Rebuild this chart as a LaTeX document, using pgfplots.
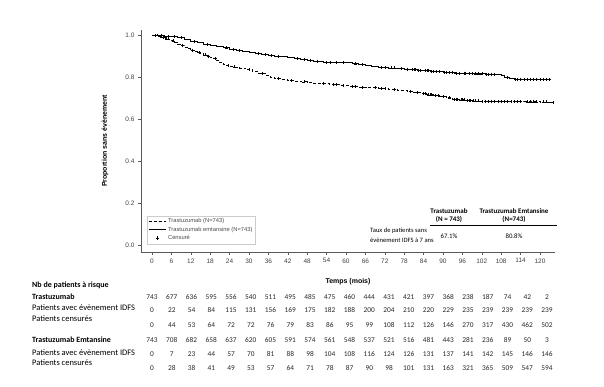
\documentclass[border=0pt]{standalone}
\usepackage{fontspec}
\setmainfont{Carlito}
\newfontfamily\arialf{Liberation Sans}
\usepackage{pgfplots}
\pgfplotsset{compat=1.18}
\begin{document}
\begin{tikzpicture}
\path[use as bounding box] (0,0) rectangle (604bp,387bp);
\begin{axis}[
  at={(141bp,135bp)}, anchor=south west,
  scale only axis, width=414bp, height=222bp,
  xmin=-3.4, xmax=124.65, ymin=-0.0333, ymax=1.0238,
  axis x line=bottom, axis y line=left,
  axis line style={-, black!65, line width=0.5pt},
  xtick={0,6,...,120}, ytick={0,0.2,0.4,0.6,0.8,1},
  tick align=outside, major tick length=3bp, tick style={black!65, line width=0.5pt},
  /pgf/number format/assume math mode=true,
  yticklabel style={/pgf/number format/fixed, /pgf/number format/fixed zerofill, /pgf/number format/precision=1},
  ticklabel style={font=\arialf\fontsize{6.5}{7}\selectfont, text=black!75},
  xlabel={Temps (mois)}, ylabel={Proportion sans évènement},
  xlabel style={font=\arialf\bfseries\fontsize{7}{8}\selectfont, at={(axis description cs:0.5,-0.135)}, anchor=center},
  ylabel style={font=\arialf\bfseries\fontsize{7}{8}\selectfont, at={(axis description cs:-0.087,0.5)}, anchor=center},
  legend cell align=left,
  legend style={at={(0.0145,0.036)}, anchor=south west, draw=black!20, line width=0.4pt,
    font=\arialf\fontsize{5.8}{6.5}\selectfont, text=black!70, inner sep=1pt, row sep=-1.5pt},
  clip=false,
]
% Trastuzumab (dashed)
\addplot[const plot, black, line width=0.8pt, dash pattern=on 3pt off 2pt] coordinates {
(0,1.0) (1,0.997) (2,0.993) (3,0.988) (4,0.982) (5,0.978) (6,0.972) (7,0.965) (8,0.957) (9,0.950)
(10,0.942) (11,0.935) (12,0.928) (13,0.922) (14,0.916) (15,0.911) (16,0.905) (17,0.899) (18,0.893)
(19,0.887) (20,0.878) (21,0.868) (22,0.860) (23,0.855) (24,0.851) (25,0.848) (27,0.843) (29,0.836)
(31,0.828) (33,0.818) (35,0.806) (36.5,0.798) (38,0.792) (40,0.787) (42,0.783) (44,0.780) (46,0.777)
(48,0.774) (50,0.771) (52,0.769) (55,0.765) (58,0.760) (61,0.756) (64,0.752) (67,0.749) (70,0.746)
(73,0.742) (76,0.737) (79,0.732) (81,0.728) (83,0.721) (85,0.715) (87,0.711) (89,0.707) (91,0.701)
(93,0.695) (95,0.691) (97,0.688) (99,0.686) (102,0.685) (106,0.684) (110,0.683) (115,0.682)
(120,0.681) (124,0.680)};
\addlegendentry{Trastuzumab (N=743)}
% Trastuzumab emtansine (solid)
\addplot[const plot, black, line width=0.9pt] coordinates {
(0,1.0) (2,0.998) (4,0.995) (6,0.992) (8,0.988) (10,0.980) (12,0.971) (14,0.963) (16,0.957)
(18,0.950) (20,0.944) (22,0.939) (24,0.933) (26,0.928) (28,0.923) (30,0.918) (32,0.913) (34,0.908)
(36,0.903) (38,0.899) (40,0.896) (42,0.893) (44,0.889) (46,0.884) (48,0.880) (50,0.876) (53,0.871)
(58,0.870) (60,0.867) (62,0.863) (64,0.860) (66,0.855) (68,0.849) (70,0.845) (73,0.843) (76,0.840)
(78,0.837) (80,0.835) (82,0.833) (84,0.830) (86,0.828) (88,0.826) (90,0.823) (92,0.821) (94,0.819)
(96,0.818) (98,0.816) (100,0.815) (103,0.814) (107,0.813) (108,0.805) (109,0.798) (110.5,0.792)
(112,0.790) (118,0.790) (123,0.790)};
\addlegendentry{Trastuzumab emtansine (N=743)\hspace{40bp}}
% censored marks
\addplot[only marks, mark=+, mark size=1.5pt, black, line width=0.5pt, forget plot] coordinates {
(1,0.997) (2.5,0.993) (3.5,0.988) (4.5,0.982) (6.5,0.972) (9.5,0.950) (12.5,0.928) (14.5,0.916)
(16.5,0.905) (17.5,0.899) (19.5,0.887) (23.5,0.855) (25.5,0.848) (30,0.836) (34,0.818) (39,0.792)
(43,0.783) (47,0.777) (53,0.769) (56,0.765) (57,0.765) (59,0.760) (62,0.756) (63,0.756) (65,0.752)
(69,0.749) (71,0.746) (72,0.746) (75,0.742) (80,0.732) (82,0.728) (84,0.721) (84.5,0.721) (85.5,0.715)
(86,0.715) (86.5,0.715) (87.5,0.711) (88.5,0.711) (90,0.707) (92,0.701) (93.5,0.695) (94,0.695)
(94.5,0.695) (95.5,0.691) (96,0.691) (96.5,0.691) (97.5,0.688) (98,0.688) (98.5,0.688) (99.5,0.686)
(100,0.686) (101,0.686) (102,0.685) (103,0.685) (104,0.685) (105,0.685) (106,0.684) (107,0.684)
(108,0.684) (109,0.684) (110,0.683) (111,0.683) (112,0.683) (113,0.683) (114,0.683) (116,0.682)
(117,0.682) (118,0.682) (119,0.682) (121,0.681) (122,0.681) (124,0.680)};
\addplot[only marks, mark=+, mark size=1.5pt, black, line width=0.5pt, forget plot] coordinates {
(1,1.0) (1.5,1.0) (3,0.998) (5,0.995) (7,0.992) (9,0.988) (13,0.971) (17,0.957) (23,0.939)
(25,0.933) (27,0.928) (33,0.913) (35,0.908) (37,0.903) (39,0.899) (45,0.889) (47,0.884) (49,0.880)
(51,0.876) (54,0.871) (55,0.871) (57,0.871) (59,0.870) (63,0.863) (65,0.860) (71,0.845) (72,0.845)
(74,0.843) (75,0.843) (77,0.840) (79,0.837) (80.5,0.835) (81,0.835) (81.5,0.835) (82.5,0.833)
(83,0.833) (84.5,0.830) (85,0.830) (85.5,0.830) (86.5,0.828) (87,0.828) (88,0.826) (89,0.826)
(90.5,0.823) (91,0.823) (92,0.821) (93,0.821) (94,0.819) (95,0.819) (96.5,0.818) (97,0.818)
(98,0.816) (99,0.816) (100,0.815) (101,0.815) (102,0.815) (103.5,0.814) (104,0.814) (105,0.814)
(106,0.814) (110,0.798) (112.5,0.790) (113,0.790) (114,0.790) (115,0.790) (116,0.790) (117,0.790)
(118,0.790) (119,0.790) (120,0.790) (121,0.790) (122,0.790) (123,0.790)};
\addlegendimage{only marks, mark=+, mark size=1.6pt, black, line width=0.4pt}
\addlegendentry{Censuré}
\end{axis}
% inset table
\begin{scope}[every node/.style={inner sep=0pt}]
\node[anchor=west, font=\fontsize{6.6}{7}\selectfont] at (370bp,156bp) {Taux de patients sans};
\node[anchor=west, font=\fontsize{6.6}{7}\selectfont] at (370bp,147bp) {évènement IDFS à 7 ans};
\node[font=\bfseries\fontsize{7}{8}\selectfont] at (449bp,176bp) {Trastuzumab};
\node[font=\bfseries\fontsize{7}{8}\selectfont] at (449bp,168bp) {(N = 743)};
\node[font=\bfseries\fontsize{7}{8}\selectfont] at (514bp,176bp) {Trastuzumab Emtansine};
\node[font=\bfseries\fontsize{7}{8}\selectfont] at (514bp,168bp) {(N=743)};
\draw[black, line width=0.6pt] (430bp,162bp) -- (557bp,162bp);
\node[font=\fontsize{6.8}{7}\selectfont] at (449bp,151bp) {67.1\%};
\node[font=\fontsize{6.8}{7}\selectfont] at (514bp,151bp) {80.8\%};
% numbers at risk
\node[anchor=west, font=\bfseries\fontsize{8}{9}\selectfont] at (32bp,102bp) {Nb de patients à risque};
\node[anchor=west, font=\bfseries\fontsize{8}{9}\selectfont] at (32bp,90bp) {Trastuzumab};
\node[anchor=west, font=\fontsize{8.5}{9}\selectfont] at (32bp,79bp) {Patients avec évènement IDFS};
\node[anchor=west, font=\fontsize{8.5}{9}\selectfont] at (32bp,68bp) {Patients censurés};
\node[anchor=west, font=\bfseries\fontsize{8}{9}\selectfont] at (32bp,47bp) {Trastuzumab Emtansine};
\node[anchor=west, font=\fontsize{8.5}{9}\selectfont] at (32bp,34bp) {Patients avec évènement IDFS};
\node[anchor=west, font=\fontsize{8.5}{9}\selectfont] at (32bp,24bp) {Patients censurés};
\foreach \v [count=\i from 0] in {743,677,636,595,556,540,511,495,485,475,460,444,431,421,397,368,238,187,74,42,2}
  \node[font=\fontsize{7.4}{8}\selectfont, text=black!85] at ({(152+19.75*\i)*1bp},90bp) {\v};
\foreach \v [count=\i from 0] in {0,22,54,84,115,131,156,169,175,182,188,200,204,210,220,229,235,239,239,239,239}
  \node[font=\fontsize{7.4}{8}\selectfont, text=black!85] at ({(152+19.75*\i)*1bp},77bp) {\v};
\foreach \v [count=\i from 0] in {0,44,53,64,72,72,76,79,83,86,95,99,108,112,126,146,270,317,430,462,502}
  \node[font=\fontsize{7.4}{8}\selectfont, text=black!85] at ({(152+19.75*\i)*1bp},62bp) {\v};
\foreach \v [count=\i from 0] in {743,708,682,658,637,620,605,591,574,561,548,537,521,516,481,443,281,236,89,50,3}
  \node[font=\fontsize{7.4}{8}\selectfont, text=black!85] at ({(152+19.75*\i)*1bp},47bp) {\v};
\foreach \v [count=\i from 0] in {0,7,23,44,57,70,81,88,98,104,108,116,124,126,131,137,141,142,145,146,146}
  \node[font=\fontsize{7.4}{8}\selectfont, text=black!85] at ({(152+19.75*\i)*1bp},33bp) {\v};
\foreach \v [count=\i from 0] in {0,28,38,41,49,53,57,64,71,78,87,90,98,101,131,163,321,365,509,547,594}
  \node[font=\fontsize{7.4}{8}\selectfont, text=black!85] at ({(152+19.75*\i)*1bp},19bp) {\v};
\end{scope}
\end{tikzpicture}
\end{document}
